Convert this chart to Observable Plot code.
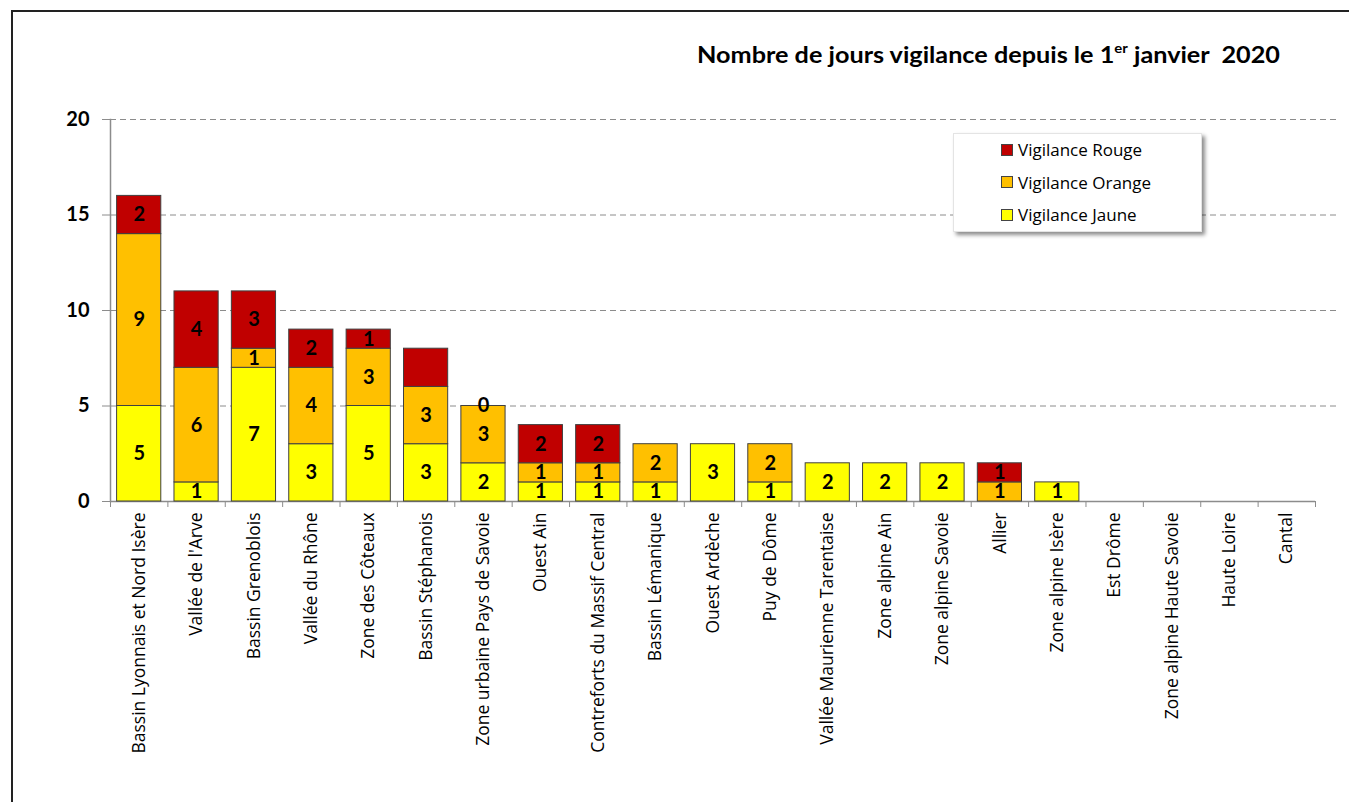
<!DOCTYPE html>
<html><head><meta charset="utf-8">
<script src="https://cdn.jsdelivr.net/npm/d3@7"></script>
<script src="https://cdn.jsdelivr.net/npm/@observablehq/plot@0.6"></script>
<style>
body{margin:0;background:#fff;width:1349px;height:802px;overflow:hidden;position:relative;font-family:"Open Sans",sans-serif}
#frame{position:absolute;left:11px;top:10px;width:1400px;height:900px;border:2px solid #222;box-sizing:border-box}
#chart{position:absolute;left:0;top:0}
#title{position:absolute;left:697px;top:41px;font:bold 22px Lato;white-space:pre;color:#000;transform-origin:0 0}
#title sup{font-size:13px;vertical-align:top;position:relative;top:-1px}
#legend{position:absolute;left:953px;top:133px;width:249px;height:99px;background:#fff;box-shadow:3px 3px 4px rgba(0,0,0,.45);border:1px solid #e4e4e4;box-sizing:border-box}
.item{position:absolute;left:47px;font:17px "Open Sans";display:flex;align-items:center;color:#000;white-space:nowrap}
.sw{width:10px;height:10px;border:1px solid #444;margin-right:5px}
</style></head><body>
<div id="frame"></div>
<div id="chart"></div>
<div id="title">Nombre de jours vigilance depuis le 1<sup>er</sup> janvier  2020</div>
<div id="legend"></div>
<script>
const categories = ["Bassin Lyonnais et Nord Isère","Vallée de l'Arve","Bassin Grenoblois","Vallée du Rhône","Zone des Côteaux","Bassin Stéphanois","Zone urbaine Pays de Savoie","Ouest Ain","Contreforts du Massif Central","Bassin Lémanique","Ouest Ardèche","Puy de Dôme","Vallée Maurienne Tarentaise","Zone alpine Ain","Zone alpine Savoie","Allier","Zone alpine Isère","Est Drôme","Zone alpine Haute Savoie","Haute Loire","Cantal"];
const jaune  = [5,1,7,3,5,3,2,1,1,1,3,1,2,2,2,null,1,null,null,null,null];
const orange = [9,6,1,4,3,3,3,1,1,2,null,2,null,null,null,1,null,null,null,null,null];
const rouge  = [2,4,3,2,1,2,0,2,2,null,null,null,null,null,null,1,null,null,null,null,null];
const series = ["Vigilance Jaune","Vigilance Orange","Vigilance Rouge"];
const colors = ["#FFFF00","#FFC000","#C00000"];
const yTicks = [0,5,10,15,20];
const hiddenLabels = [["Bassin Stéphanois","Vigilance Rouge"]];

(function(){
const values = [jaune, orange, rouge];
const rows = [];
categories.forEach((c,i)=>series.forEach((s,k)=>{
  const v = values[k][i];
  if (v != null) rows.push({cat:c, series:s, value:v});
}));
const isHidden = d => hiddenLabels.some(([c,s]) => c===d.cat && s===d.series);

const W=1349, H=802, mLeft=110, axisRight=1315, gridRight=1340, mTop=119, yBase=501;
const step = (axisRight-mLeft)/categories.length;
const axisGray = "#8c8c8c";

const chart = Plot.plot({
  width:W, height:H,
  marginLeft:mLeft, marginRight:W-gridRight, marginTop:mTop, marginBottom:H-yBase,
  style:{background:"transparent", overflow:"visible"},
  x:{domain:categories, range:[mLeft,axisRight], paddingInner:0.23, paddingOuter:0.115, round:false, label:null, axis:null},
  y:{domain:[0,20], label:null, axis:null},
  color:{domain:series, range:colors},
  marks:[
    Plot.ruleY(yTicks.filter(t=>t>0), {stroke:"#8c8c8c", strokeDasharray:"6,4"}),
    Plot.frame({anchor:"left", stroke:axisGray, strokeWidth:1.5}),
    Plot.ruleY([0], {stroke:axisGray, strokeWidth:1.5, insetRight:gridRight-axisRight}),
    Plot.axisY({ticks:yTicks, tickSize:8, tickPadding:13, stroke:axisGray, fill:"#000", fontSize:20, fontWeight:"bold", fontFamily:"Lato", label:null}),
    Plot.axisX({tickSize:6, tickFormat:()=>"", dx:-step/2, stroke:axisGray, label:null}),
    Plot.axisX([categories[categories.length-1]], {tickSize:6, tickFormat:()=>"", dx:step/2, stroke:axisGray, label:null}),
    Plot.axisX({tickSize:0, tickPadding:11, tickRotate:-90, fontSize:17.5, fontFamily:"Open Sans", fill:"#000", label:null}),
    Plot.barY(rows, {x:"cat", y:"value", fill:"series", order:series, stroke:"#404040", strokeWidth:1}),
    Plot.text(rows, Plot.stackY({x:"cat", y:"value", z:"series", order:series,
      text:d => isHidden(d) ? "" : String(d.value),
      fontSize:20, fontWeight:"bold", fontFamily:"Lato", fill:"#000"}))
  ]
});
document.getElementById("chart").append(chart);

const title = document.getElementById("title");
const tw = title.getBoundingClientRect().width;
title.style.transform = `scaleX(${583/tw})`;

const legend = document.getElementById("legend");
[...series].reverse().forEach((s,j)=>{
  const k = series.indexOf(s);
  const it = document.createElement("div");
  it.className = "item";
  it.style.top = (4 + j*32.5) + "px";
  it.innerHTML = `<span class="sw" style="background:${colors[k]}"></span><span>${s}</span>`;
  legend.append(it);
});
})();
</script>
</body></html>
